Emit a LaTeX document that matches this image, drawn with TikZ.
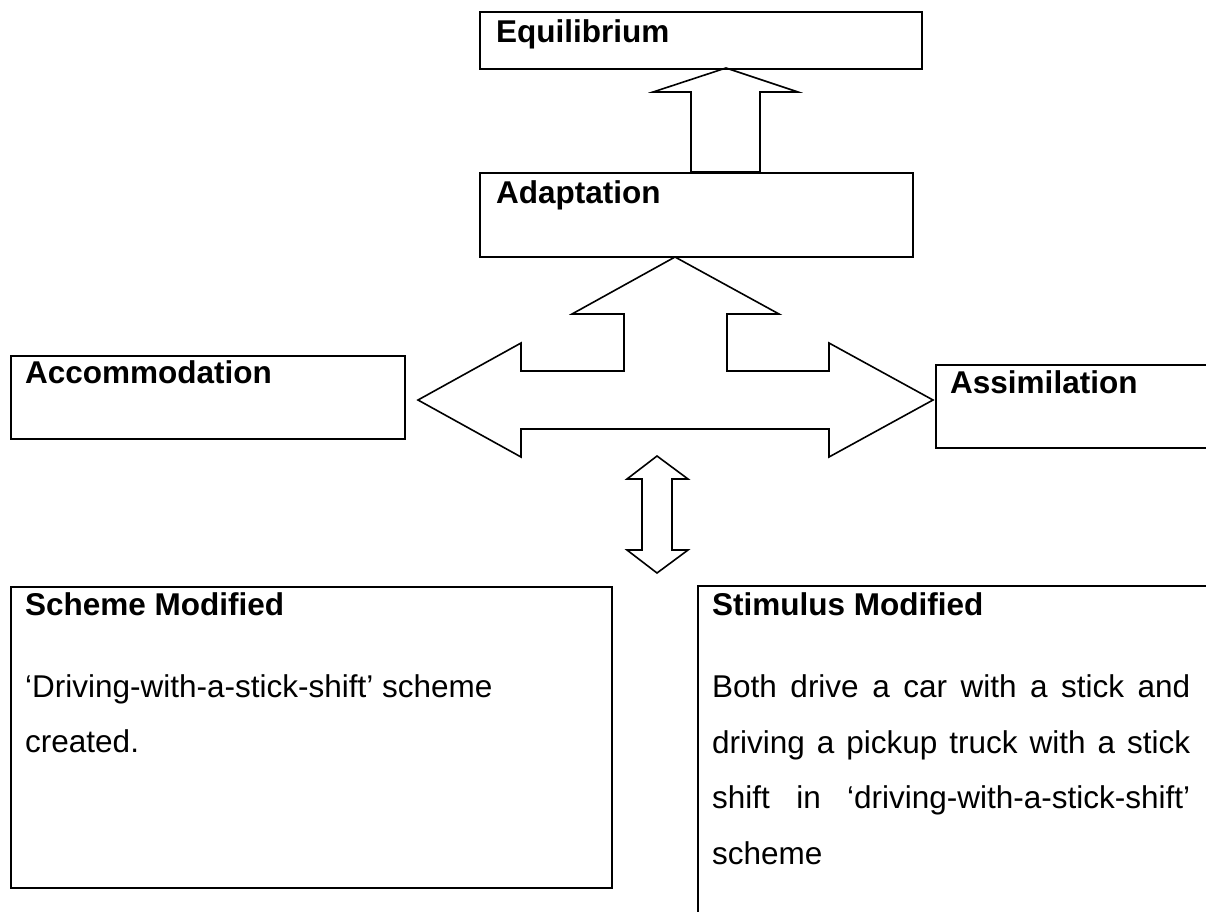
\documentclass[tikz,border=0pt]{standalone}
\usepackage{fontspec}
\setmainfont{Liberation Sans}
\newcommand{\justline}[1]{\makebox[478pt][s]{#1}}

\begin{document}
\begin{tikzpicture}[x=1pt,y=-1pt,
    box/.style={draw,line width=2.4pt,rectangle,anchor=north west,inner sep=0pt},
    head/.style={anchor=base west,inner sep=0pt,font=\fontsize{31.5}{55.5}\selectfont\bfseries},
    body/.style={anchor=base west,inner sep=0pt,align=left,font=\fontsize{31.5}{55.5}\selectfont},
    blockarrow/.style={draw,line width=1.6pt,line join=miter}]
    \clip (0,0) rectangle (1206,911);
    \fill[white] (0,0) rectangle (1206,911);
    % boxes
    \node[box,minimum width=442pt,minimum height=57pt] (equilibrium) at (479,11) {};
    \node[box,minimum width=433pt,minimum height=84pt] (adaptation) at (479,172) {};
    \node[box,minimum width=394pt,minimum height=83pt] (accommodation) at (10,355) {};
    \node[box,minimum width=300pt,minimum height=83pt] (assimilation) at (935,364) {};
    \node[box,minimum width=601pt,minimum height=301pt] (scheme) at (10,586) {};
    \node[box,minimum width=540pt,minimum height=360pt] (stimulus) at (697,585) {};
    % titles
    \node[head] (equilibriumtext) at ([xshift=17pt,yshift=-31pt]equilibrium.north west) {Equilibrium};
    \node[head] (adaptationtext) at ([xshift=17pt,yshift=-31pt]adaptation.north west) {Adaptation};
    \node[head] (accommodationtext) at ([xshift=15pt,yshift=-28pt]accommodation.north west) {Accommodation};
    \node[head] (assimilationtext) at ([xshift=15pt,yshift=-29pt]assimilation.north west) {Assimilation};
    \node[head] (schemetext) at ([xshift=15pt,yshift=-29pt]scheme.north west) {Scheme Modified};
    \node[head] (stimulustext) at ([xshift=15pt,yshift=-30pt]stimulus.north west) {Stimulus Modified};
    % body text (base = last line)
    \node[body] (schemebody) at ([xshift=15pt,yshift=-166.5pt]scheme.north west)
        {‘Driving-with-a-stick-shift’ scheme\\created.};
    \node[body] (stimulusbody) at ([xshift=15pt,yshift=-279pt]stimulus.north west)
        {\justline{Both drive a car with a stick and}\\
         \justline{driving a pickup truck with a stick}\\
         \justline{shift in ‘driving-with-a-stick-shift’}\\
         scheme};
    % arrow up to equilibrium
    \coordinate (eqtip) at (726,68);
    \draw[blockarrow] (eqtip) -- (798,92) -- (760,92) -- (760,172) -- (691,172) -- (691,92) -- (653,92) -- cycle;
    % three-way arrow
    \coordinate (adtip) at (675,257);
    \draw[blockarrow] (adtip) -- (779,314) -- (727,314) -- (727,371) -- (829,371) -- (829,343)
        -- (933,400) -- (829,457) -- (829,429) -- (521,429) -- (521,457) -- (418,400)
        -- (521,343) -- (521,371) -- (624,371) -- (624,314) -- (572,314) -- cycle;
    % double arrow
    \coordinate (dbtip) at (657,456);
    \draw[blockarrow] (dbtip) -- (688,479) -- (672,479) -- (672,550) -- (688,550) -- (657,573)
        -- (627,550) -- (642,550) -- (642,479) -- (627,479) -- cycle;
\end{tikzpicture}
\end{document}
